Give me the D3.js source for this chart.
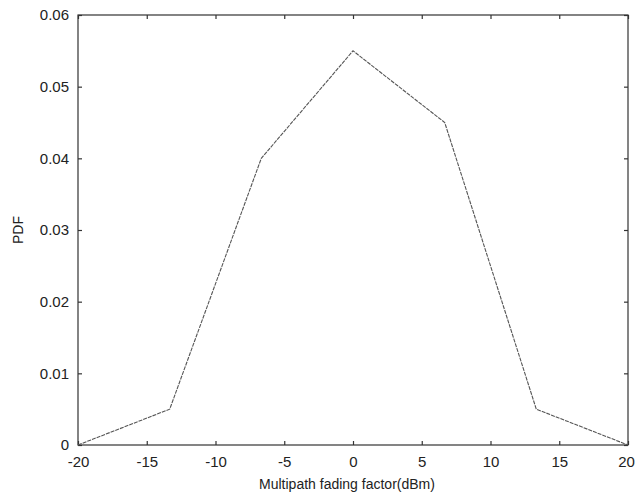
<!DOCTYPE html>
<html>
<head>
<meta charset="utf-8">
<script src="https://cdn.jsdelivr.net/npm/d3@7"></script>
<style>
  html, body { margin: 0; padding: 0; background: #fff; }
  svg { display: block; font-family: "Liberation Sans", Arial, sans-serif; }
</style>
</head>
<body>
<svg id="chart" width="635" height="494"></svg>
<script>
// Data
const xValues = [-20, -13.33, -6.67, 0, 6.67, 13.33, 20];
const pdfValues = [0, 0.005, 0.04, 0.055, 0.045, 0.005, 0];
const xTicks = [-20, -15, -10, -5, 0, 5, 10, 15, 20];
const yTicks = [0, 0.01, 0.02, 0.03, 0.04, 0.05, 0.06];
const xLabel = "Multipath fading factor(dBm)";
const yLabel = "PDF";

(function () {
const svg = d3.select("#chart");
const mL = 78, mR = 628, mT = 15, mB = 445;
const x = d3.scaleLinear().domain([-20, 20]).range([mL, mR]);
const y = d3.scaleLinear().domain([0, 0.06]).range([mB, mT]);
const ink = "#333";
const tickLen = 4;

// Box
svg.append("rect").attr("x", mL).attr("y", mT)
  .attr("width", mR - mL).attr("height", mB - mT)
  .attr("fill", "none").attr("stroke", ink).attr("stroke-width", 1.2);

// Axes with inward ticks
const xAxisB = d3.axisBottom(x).tickValues(xTicks).tickSize(-tickLen).tickPadding(11)
  .tickFormat(d => String(d));
const gx = svg.append("g").attr("transform", `translate(0,${mB})`).call(xAxisB);
const xAxisT = d3.axisTop(x).tickValues(xTicks).tickSize(-tickLen).tickFormat("");
const gxt = svg.append("g").attr("transform", `translate(0,${mT})`).call(xAxisT);
const yAxisL = d3.axisLeft(y).tickValues(yTicks).tickSize(-tickLen).tickPadding(9)
  .tickFormat(d => d === 0 ? "0" : d3.format(".2f")(d));
const gy = svg.append("g").attr("transform", `translate(${mL},0)`).call(yAxisL);
const yAxisR = d3.axisRight(y).tickValues(yTicks).tickSize(-tickLen).tickFormat("");
const gyr = svg.append("g").attr("transform", `translate(${mR},0)`).call(yAxisR);

[gx, gxt, gy, gyr].forEach(g => {
  g.select(".domain").remove();
  g.selectAll(".tick line").attr("stroke", ink).attr("stroke-width", 1.2);
  g.selectAll(".tick text").attr("fill", "#222").style("font-size", "15px");
});
// keep the last x label inside the picture
gx.selectAll(".tick text").filter(d => d === 20).attr("x", -2);

// Line
const line = d3.line().x((d, i) => x(xValues[i])).y(d => y(d));
svg.append("path").datum(pdfValues)
  .attr("d", line)
  .attr("fill", "none")
  .attr("stroke", "#555")
  .attr("stroke-width", 1.1)
  .attr("stroke-dasharray", "4,1");

// Labels
svg.append("text").attr("x", (mL + mR) / 2 - 6).attr("y", 489)
  .attr("text-anchor", "middle").attr("fill", "#222")
  .style("font-size", "14px").text(xLabel);
svg.append("text")
  .attr("transform", `translate(23,${(mT + mB) / 2}) rotate(-90)`)
  .attr("text-anchor", "middle").attr("fill", "#222")
  .style("font-size", "14px").text(yLabel);
})();
</script>
</body>
</html>
